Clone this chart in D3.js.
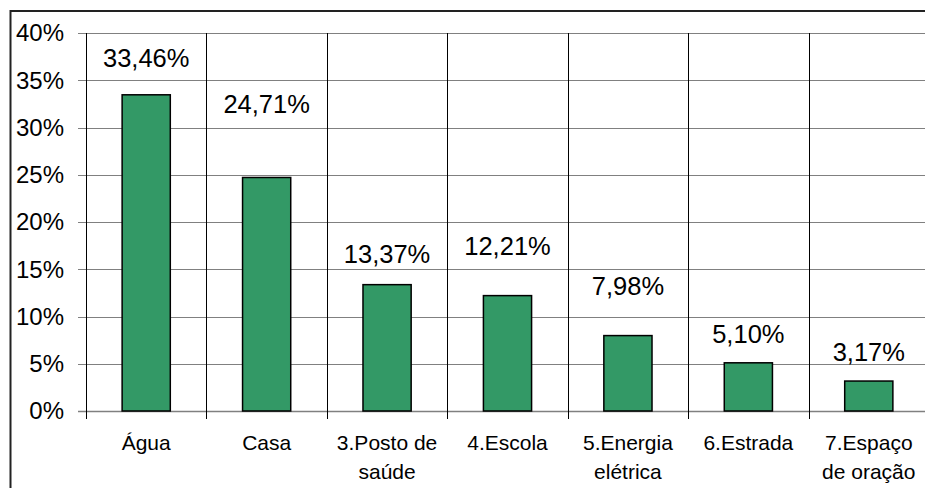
<!DOCTYPE html>
<html>
<head>
<meta charset="utf-8">
<script src="https://cdn.jsdelivr.net/npm/d3@7"></script>
<style>
  html, body { margin: 0; padding: 0; background: #fff; }
  #chart { width: 925px; height: 488px; overflow: hidden; }
  text { font-family: "Liberation Sans", Arial, sans-serif; }
</style>
</head>
<body>
<div id="chart"></div>
<script>
// Chart data
const categories = [
  ["Água"],
  ["Casa"],
  ["3.Posto de", "saúde"],
  ["4.Escola"],
  ["5.Energia", "elétrica"],
  ["6.Estrada"],
  ["7.Espaço", "de oração"],
];
const values = [33.46, 24.71, 13.37, 12.21, 7.98, 5.1, 3.17];
// where each value label sits, in % units (labels were placed by hand)
const labelAt = [36.4, 31.5, 15.7, 16.5, 12.3, 7.2, 5.3];
const yTicks = [0, 5, 10, 15, 20, 25, 30, 35, 40];

const width = 925;
const height = 488;
// plot area runs past the right edge of the picture
const plot = { left: 86, right: 929, top: 33, bottom: 411 };

const svg = d3
  .select("#chart")
  .append("svg")
  .attr("width", width)
  .attr("height", height);

const x = d3
  .scaleBand()
  .domain(d3.range(values.length))
  .range([plot.left, plot.right])
  .paddingInner(0)
  .paddingOuter(0);

const y = d3.scaleLinear().domain([0, 40]).range([plot.bottom, plot.top]);

const fmt = (v) => v.toFixed(2).replace(".", ",") + "%";

// ── Outer frame (only left and top are in view) ──
svg
  .append("path")
  .attr("d", `M 10.5 ${height} L 10.5 11 L ${width} 11`)
  .attr("fill", "none")
  .attr("stroke", "#222")
  .attr("stroke-width", 2);

// ── Horizontal gridlines + y ticks ──
svg
  .append("g")
  .selectAll("line")
  .data(yTicks)
  .join("line")
  .attr("x1", plot.left - 8)
  .attr("x2", plot.right)
  .attr("y1", (d) => Math.round(y(d)) + 0.5)
  .attr("y2", (d) => Math.round(y(d)) + 0.5)
  .attr("stroke", "#808080")
  .attr("stroke-width", (d) => (d === 0 ? 1.5 : 1));

svg
  .append("g")
  .selectAll("text")
  .data(yTicks)
  .join("text")
  .attr("x", 64)
  .attr("y", (d) => y(d))
  .attr("dy", "0.35em")
  .attr("text-anchor", "end")
  .attr("font-size", "24px")
  .attr("fill", "#000")
  .text((d) => d + "%");

// ── Vertical gridlines at category boundaries ──
const bounds = d3.range(values.length + 1).map((i) =>
  i < values.length ? x(i) : x(values.length - 1) + x.bandwidth()
);

svg
  .append("g")
  .selectAll("line")
  .data(bounds)
  .join("line")
  .attr("x1", (d) => Math.round(d) + 0.5)
  .attr("x2", (d) => Math.round(d) + 0.5)
  .attr("y1", plot.top)
  .attr("y2", plot.bottom + 8)
  .attr("stroke", "#000")
  .attr("stroke-width", 1);

// ── Bars ──
const barW = x.bandwidth() * 0.4;

svg
  .append("g")
  .selectAll("rect")
  .data(values)
  .join("rect")
  .attr("x", (d, i) => x(i) + (x.bandwidth() - barW) / 2)
  .attr("y", (d) => y(d))
  .attr("width", barW)
  .attr("height", (d) => plot.bottom - y(d))
  .attr("fill", "#339966")
  .attr("stroke", "#000")
  .attr("stroke-width", 1.5);

// ── Value labels ──
svg
  .append("g")
  .selectAll("text")
  .data(values)
  .join("text")
  .attr("x", (d, i) => x(i) + x.bandwidth() / 2)
  .attr("y", (d, i) => y(labelAt[i]))
  .attr("text-anchor", "middle")
  .attr("font-size", "25.5px")
  .attr("fill", "#000")
  .text((d) => fmt(d));

// ── Category labels ──
const catText = svg
  .append("g")
  .selectAll("text")
  .data(categories)
  .join("text")
  .attr("x", (d, i) => x(i) + x.bandwidth() / 2)
  .attr("y", 450)
  .attr("text-anchor", "middle")
  .attr("font-size", "21px")
  .attr("fill", "#000");

catText
  .selectAll("tspan")
  .data((d) => d)
  .join("tspan")
  .attr("x", function () {
    return this.parentNode.getAttribute("x");
  })
  .attr("dy", (d, i) => (i === 0 ? 0 : 29))
  .text((d) => d);
</script>
</body>
</html>
